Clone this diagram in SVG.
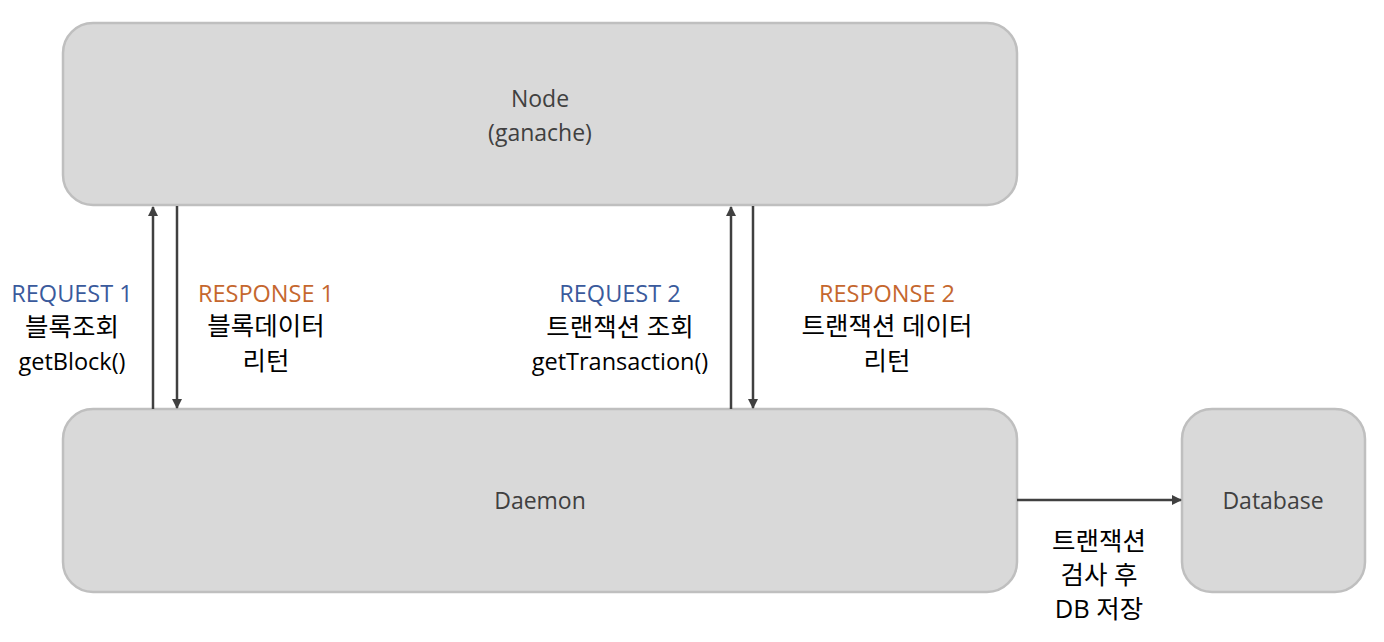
<svg xmlns="http://www.w3.org/2000/svg" width="1384" height="642" viewBox="0 0 1384 642">
<style>
.box{fill:#d9d9d9;stroke:#bfbfbf;stroke-width:2.5}
.t{font-family:"Open Sans","Noto Sans CJK KR",sans-serif;text-anchor:middle}
.nl{font-size:23px;fill:#404040}
.lb{font-size:23.5px;fill:#000}
.ko{font-size:25.5px;fill:#000}
.req{fill:#3a5a9c}
.res{fill:#c5672e}
.c{stroke:#404040;stroke-width:2.5;fill:none}
</style>
<defs>
<marker id="ah" viewBox="0 0 10 10" refX="9" refY="5" markerWidth="4" markerHeight="4" orient="auto" markerUnits="strokeWidth">
<path d="M0,0 L10,5 L0,10 z" fill="#404040"/>
</marker>
</defs>
<g id="node">
<rect class="box" x="63" y="23" width="954" height="182" rx="30"/>
<text class="t nl" x="540" y="107">Node</text>
<text class="t nl" x="540" y="141">(ganache)</text>
</g>
<g id="daemon">
<rect class="box" x="63" y="409" width="954" height="183" rx="30"/>
<text class="t nl" x="540" y="509">Daemon</text>
</g>
<g id="database">
<rect class="box" x="1182" y="409" width="183" height="183" rx="30"/>
<text class="t nl" x="1273" y="509">Database</text>
</g>
<g id="connectors">
<line class="c" x1="153" y1="409" x2="153" y2="207" marker-end="url(#ah)"/>
<line class="c" x1="177" y1="206" x2="177" y2="408" marker-end="url(#ah)"/>
<line class="c" x1="731" y1="409" x2="731" y2="207" marker-end="url(#ah)"/>
<line class="c" x1="753" y1="206" x2="753" y2="408" marker-end="url(#ah)"/>
<line class="c" x1="1017" y1="500" x2="1181" y2="500" marker-end="url(#ah)"/>
</g>
<g id="labels">
<text class="t lb req" x="72" y="302">REQUEST 1</text>
<text class="t ko" x="72" y="336">블록조회</text>
<text class="t lb" x="72" y="370">getBlock()</text>
<text class="t lb res" x="266" y="302">RESPONSE 1</text>
<text class="t ko" x="266" y="335">블록데이터</text>
<text class="t ko" x="266" y="370">리턴</text>
<text class="t lb req" x="620" y="302">REQUEST 2</text>
<text class="t ko" x="620" y="336">트랜잭션 조회</text>
<text class="t lb" x="620" y="370">getTransaction()</text>
<text class="t lb res" x="887" y="302">RESPONSE 2</text>
<text class="t ko" x="887" y="335">트랜잭션 데이터</text>
<text class="t ko" x="887" y="370">리턴</text>
<text class="t ko" x="1099" y="550">트랜잭션</text>
<text class="t ko" x="1099" y="584">검사 후</text>
<text class="t ko" x="1099" y="618">DB 저장</text>
</g>
</svg>
